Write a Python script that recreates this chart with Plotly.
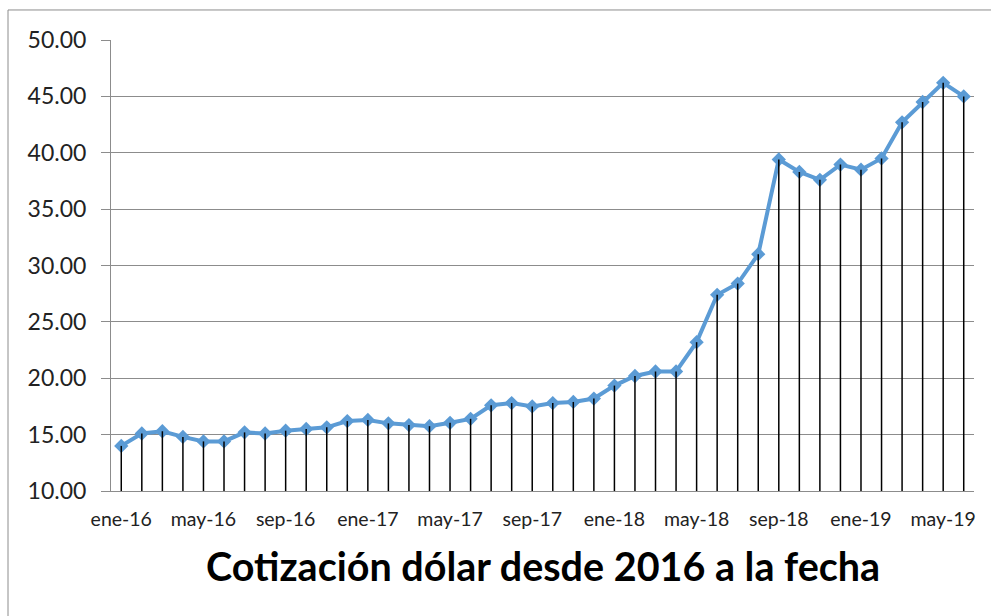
import plotly.graph_objects as go

# monthly labels ene-16 .. jun-19
meses = ["ene", "feb", "mar", "abr", "may", "jun", "jul", "ago", "sep", "oct", "nov", "dic"]
fechas = [f"{m}-{a}" for a in ["16", "17", "18", "19"] for m in meses][:42]

cotizacion = [
    14.0, 15.1, 15.3, 14.8, 14.4, 14.4, 15.2, 15.1, 15.35, 15.5, 15.65, 16.2,
    16.3, 16.0, 15.85, 15.75, 16.05, 16.4, 17.6, 17.8, 17.5, 17.8, 17.9, 18.2,
    19.35, 20.2, 20.6, 20.6, 23.2, 27.4, 28.4, 31.0, 39.4, 38.3, 37.6, 38.95,
    38.5, 39.5, 42.7, 44.5, 46.2, 45.0,
]

ticks_x = list(range(0, 42, 4))
ticks_txt = [fechas[i] for i in ticks_x]

base = 10
gris = "#8c8c8c"
azul = "#5B9BD5"

idx = list(range(len(cotizacion)))

# drop lines from each point down to the axis
drop_x, drop_y = [], []
for i, v in zip(idx, cotizacion):
    drop_x += [i, i, None]
    drop_y += [base, v, None]

fig = go.Figure()

fig.add_trace(
    go.Scatter(
        x=idx,
        y=cotizacion,
        mode="lines+markers",
        line=dict(color=azul, width=4),
        marker=dict(symbol="diamond", size=11, color=azul),
        showlegend=False,
    )
)
fig.add_trace(
    go.Scatter(
        x=drop_x,
        y=drop_y,
        mode="lines",
        line=dict(color="black", width=1.5),
        showlegend=False,
        hoverinfo="skip",
    )
)

fig.update_xaxes(
    range=[-0.5, len(cotizacion) - 0.5],
    tickmode="array",
    tickvals=ticks_x,
    ticktext=ticks_txt,
    showgrid=False,
    zeroline=False,
    showline=True,
    linecolor=gris,
    linewidth=1,
    ticks="",
    tickfont=dict(family="Lato", size=19.5, color="#222222"),
    ticklabelstandoff=11,
)
fig.update_yaxes(
    range=[10, 50],
    dtick=5,
    tickformat=".2f",
    showgrid=True,
    gridcolor=gris,
    gridwidth=1,
    zeroline=False,
    showline=True,
    linecolor=gris,
    ticks="outside",
    ticklen=9,
    tickcolor=gris,
    tickfont=dict(family="Lato", size=23, color="#222222"),
    ticklabelstandoff=10,
)

# outer chart border (top and left edges visible)
bx = (8 - 111) / 863
by = (490.7 - 10) / 450.7
fig.add_shape(type="line", xref="paper", yref="paper", x0=bx, x1=1.1, y0=by, y1=by,
              line=dict(color=gris, width=1))
fig.add_shape(type="line", xref="paper", yref="paper", x0=bx, x1=bx, y0=-0.4, y1=by,
              line=dict(color=gris, width=1))

fig.add_annotation(
    text="<b>Cotización dólar desde 2016 a la fecha</b>",
    xref="paper", yref="paper", x=0.5, y=-0.166,
    xanchor="center", yanchor="middle", showarrow=False,
    font=dict(family="Lato", size=39.5, color="black"),
)

fig.update_layout(
    width=991,
    height=616,
    margin=dict(l=111, r=17, t=40, b=125),
    paper_bgcolor="white",
    plot_bgcolor="white",
    showlegend=False,
)

# drop the browser's default body margin so the figure fills the window
fig.write_html(
    "out.html",
    config={"displayModeBar": False},
    post_script="document.body.style.margin='0';document.body.style.overflow='hidden';",
)
